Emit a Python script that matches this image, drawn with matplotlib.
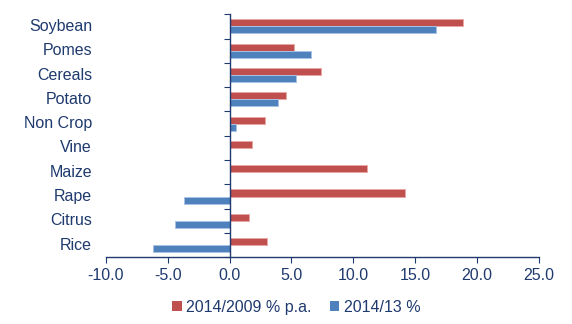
import numpy as np
import matplotlib.pyplot as plt
from matplotlib.patches import Patch
from matplotlib.transforms import blended_transform_factory

plt.rcParams["font.family"] = ["Liberation Sans", "DejaVu Sans"]

# ---- data ----
crops = ["Soybean", "Pomes", "Cereals", "Potato", "Non Crop",
         "Vine", "Maize", "Rape", "Citrus", "Rice"]
growth_5y = [18.85, 5.2, 7.4, 4.55, 2.9, 1.85, 11.1, 14.15, 1.55, 3.0]
growth_1y = [16.7, 6.6, 5.4, 3.9, 0.5, 0.0, 0.0, -3.7, -4.4, -6.2]
series_names = ["2014/2009 % p.a.", "2014/13 %"]

RED = "#C0504D"
BLUE = "#4F81BD"
NAVY = "#1F3A6E"

fig = plt.figure(figsize=(5.72, 3.24), dpi=100)
ax = fig.add_axes([0.185, 0.206, 0.757, 0.750])

y = np.arange(len(crops))
h = 0.29
ax.barh(y - h / 2, growth_5y, height=h, color=RED,
        edgecolor="#E8A7A5", linewidth=0.7)
ax.barh(y + h / 2, growth_1y, height=h, color=BLUE,
        edgecolor="#A9C2E3", linewidth=0.7)

ax.set_xlim(-10, 25)
ax.set_ylim(len(crops) - 0.5, -0.5)
ax.set_xticks(np.arange(-10, 26, 5))
ax.set_xticklabels([f"{v:.1f}" for v in np.arange(-10, 26, 5)])

# y axis sits on zero, ticks between categories
ax.spines["left"].set_position(("data", 0))
ax.spines["top"].set_visible(False)
ax.spines["right"].set_visible(False)
for s in ("left", "bottom"):
    ax.spines[s].set_color(NAVY)
    ax.spines[s].set_linewidth(1.0)
ax.set_yticks(np.arange(-0.5, len(crops), 1.0))
ax.set_yticklabels([])
ax.tick_params(axis="y", direction="out", length=4, color=NAVY)
ax.tick_params(axis="x", direction="out", length=4, color=NAVY,
               labelcolor=NAVY, labelsize=11.5, pad=4)

# category names at the left edge of the plot area
trans = blended_transform_factory(ax.transAxes, ax.transData)
for yi, name in zip(y, crops):
    ax.text(-0.032, yi, name, transform=trans, ha="right", va="center",
            fontsize=11.5, color=NAVY)

handles = [Patch(facecolor=RED), Patch(facecolor=BLUE)]
fig.legend(handles, series_names, loc="center", bbox_to_anchor=(0.518, 0.052),
           ncol=2, frameon=False, fontsize=11.5, labelcolor=NAVY,
           handlelength=0.6, handleheight=0.6, handletextpad=0.3,
           columnspacing=1.1)

fig.savefig("out.png", dpi=100)
